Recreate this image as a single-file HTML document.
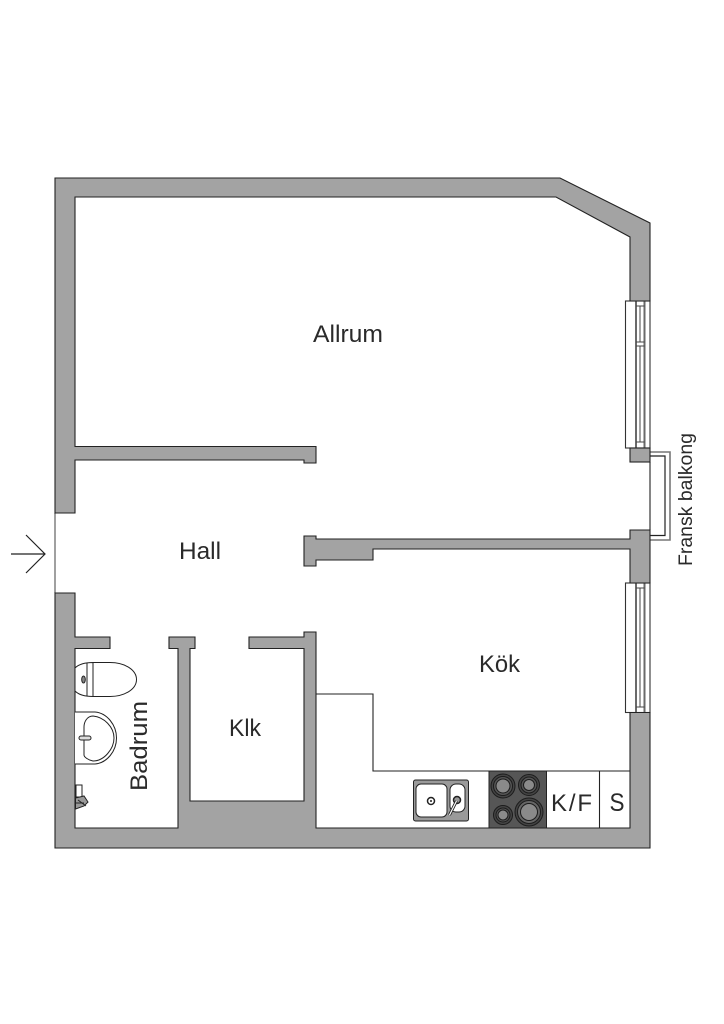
<!DOCTYPE html>
<html><head><meta charset="utf-8"><style>
html,body{margin:0;padding:0;background:#fff}
svg{display:block}
text{font-family:"Liberation Sans",sans-serif;fill:#2a2a2a}
</style></head><body>
<svg width="724" height="1024" viewBox="0 0 724 1024" xmlns="http://www.w3.org/2000/svg">
<rect width="724" height="1024" fill="#fff"/>
<!-- door line -->
<line x1="55" y1="513" x2="55" y2="593" stroke="#808080" stroke-width="1.500"/>
<!-- balcony -->
<path d="M650 452H670V540H650" fill="none" stroke="#777" stroke-width="1.600"/>
<path d="M650 456H665V535.500H650" fill="none" stroke="#222" stroke-width="1.200"/>
<line x1="650" y1="462" x2="650" y2="530" stroke="#333" stroke-width="1.200"/>
<!-- windows -->
<g fill="none">
<rect x="625.500" y="301" width="24.500" height="147" fill="#fff" stroke="#333" stroke-width="1.100"/>
<rect x="625.500" y="583" width="24.500" height="129.500" fill="#fff" stroke="#333" stroke-width="1.100"/>
<g stroke="#6a6a6a" stroke-width="2">
<path d="M636 301V448M644.500 301V448M636 583V712.500M644.500 583V712.500"/>
</g>
<g stroke="#444" stroke-width="1">
<path d="M640 306V342M640 346V442M636 306H644.500M636 342H644.500M636 346H644.500M636 442H644.500"/>
<path d="M640 588V707M636 588H644.500M636 707H644.500"/>
</g>
</g>
<!-- walls -->
<g fill="#a3a3a3" stroke="#222" stroke-width="1.100" stroke-linejoin="miter">
<path d="M55 178H560L650 223V301H630V237L556 197H75V446.500H316V463H304V460H75V513H55Z"/>
<rect x="630" y="448" width="20" height="14"/>
<path d="M630 530H650V583H630V549H373V560H316V566H304V536H316V539H630Z"/>
<path d="M630 712.500H650V848H55V593H75V637H110V648.500H75V828H178V648.500H169V637H195V648.500H190V801H304V648.500H249V637H304V632H316V828H630Z"/>
</g>
<!-- kitchen -->
<path d="M316 694H373V771H630" fill="none" stroke="#222" stroke-width="1.100"/>
<rect x="489" y="771" width="57.500" height="57" fill="#565656" stroke="#222" stroke-width="1"/>
<line x1="599.500" y1="771" x2="599.500" y2="828" stroke="#222" stroke-width="1.100"/>
<g stroke="#1c1c1c" stroke-width="1">
<circle cx="503" cy="786" r="12" fill="#444"/><circle cx="503" cy="786" r="9.500" fill="#555"/><circle cx="503" cy="786" r="7" fill="#8a8a8a"/>
<circle cx="529" cy="785" r="10.500" fill="#444"/><circle cx="529" cy="785" r="8" fill="#555"/><circle cx="529" cy="785" r="5.500" fill="#8a8a8a"/>
<circle cx="503" cy="815" r="9.500" fill="#444"/><circle cx="503" cy="815" r="7" fill="#555"/><circle cx="503" cy="815" r="5" fill="#8a8a8a"/>
<circle cx="529" cy="812" r="14" fill="#444"/><circle cx="529" cy="812" r="11.500" fill="#666"/><circle cx="529" cy="812" r="8.500" fill="#8a8a8a"/>
</g>
<!-- sink -->
<rect x="413.500" y="780" width="55" height="41" rx="2" fill="#9a9a9a" stroke="#222" stroke-width="1"/>
<rect x="416" y="784" width="31" height="33" rx="5" fill="#fff" stroke="#222" stroke-width="1"/>
<rect x="450" y="784" width="15" height="28" rx="6" fill="#fff" stroke="#222" stroke-width="1"/>
<circle cx="431" cy="801" r="3.500" fill="#fff" stroke="#222" stroke-width="1.500"/>
<circle cx="431" cy="801" r="1" fill="#222"/>
<circle cx="457" cy="800" r="3.500" fill="#999" stroke="#222" stroke-width="1.500"/>
<line x1="456.500" y1="801" x2="449.500" y2="815" stroke="#222" stroke-width="3"/>
<line x1="456.500" y1="801" x2="449.500" y2="815" stroke="#fff" stroke-width="1.200"/>
<!-- toilet -->
<g fill="#fff" stroke="#222" stroke-width="1">
<path d="M93 662.500H110C125 662.500 136.500 670 136.500 679.500C136.500 689 125 696.500 110 696.500H93Z"/>
<path d="M75 668C79 664 85 662.500 93 662.500V696.500C85 696.500 79 695 75 691Z"/>
<line x1="87" y1="663" x2="87" y2="696"/>
<ellipse cx="83.500" cy="679.500" rx="1.800" ry="3.500" fill="#888"/>
<!-- basin -->
<path d="M75 712H95C107 713 116.500 725 116.500 738C116.500 751 107 763 95 764H75"/>
<path d="M84 727C84 722 87 716 93 716C104 717 114 727 114 738C114 749 104 761 93 761C88 760 84 757 84 755Z"/>
<rect x="79" y="736" width="12" height="4" rx="2" fill="#ddd"/>
</g>
<!-- shower tap -->
<g fill="#fff" stroke="#222" stroke-width="1">
<rect x="76" y="785" width="6" height="12"/>
<path d="M75.500 798L84 796L88 802L84 806L75.500 809Z" fill="#999"/>
<path d="M76 803H84M78 800L86 806"/>
</g>
<!-- arrow -->
<path d="M11 554H45M26 535L45 554L26 573" fill="none" stroke="#222" stroke-width="1.200"/>
<!-- labels -->
<text x="313" y="342" font-size="24" textLength="70" lengthAdjust="spacingAndGlyphs">Allrum</text>
<text x="179" y="559" font-size="24" textLength="42" lengthAdjust="spacingAndGlyphs">Hall</text>
<text x="479" y="672" font-size="24" textLength="41" lengthAdjust="spacingAndGlyphs">Kök</text>
<text x="229" y="736" font-size="24" textLength="32" lengthAdjust="spacingAndGlyphs">Klk</text>
<text x="551" y="811" font-size="24" textLength="41" lengthAdjust="spacing">K/F</text>
<text x="609.500" y="811" font-size="25" textLength="15" lengthAdjust="spacingAndGlyphs">S</text>
<text transform="translate(147 791) rotate(-90)" font-size="24" textLength="90" lengthAdjust="spacingAndGlyphs">Badrum</text>
<text transform="translate(692 566) rotate(-90)" font-size="19" textLength="133" lengthAdjust="spacingAndGlyphs">Fransk balkong</text>
</svg>
</body></html>
